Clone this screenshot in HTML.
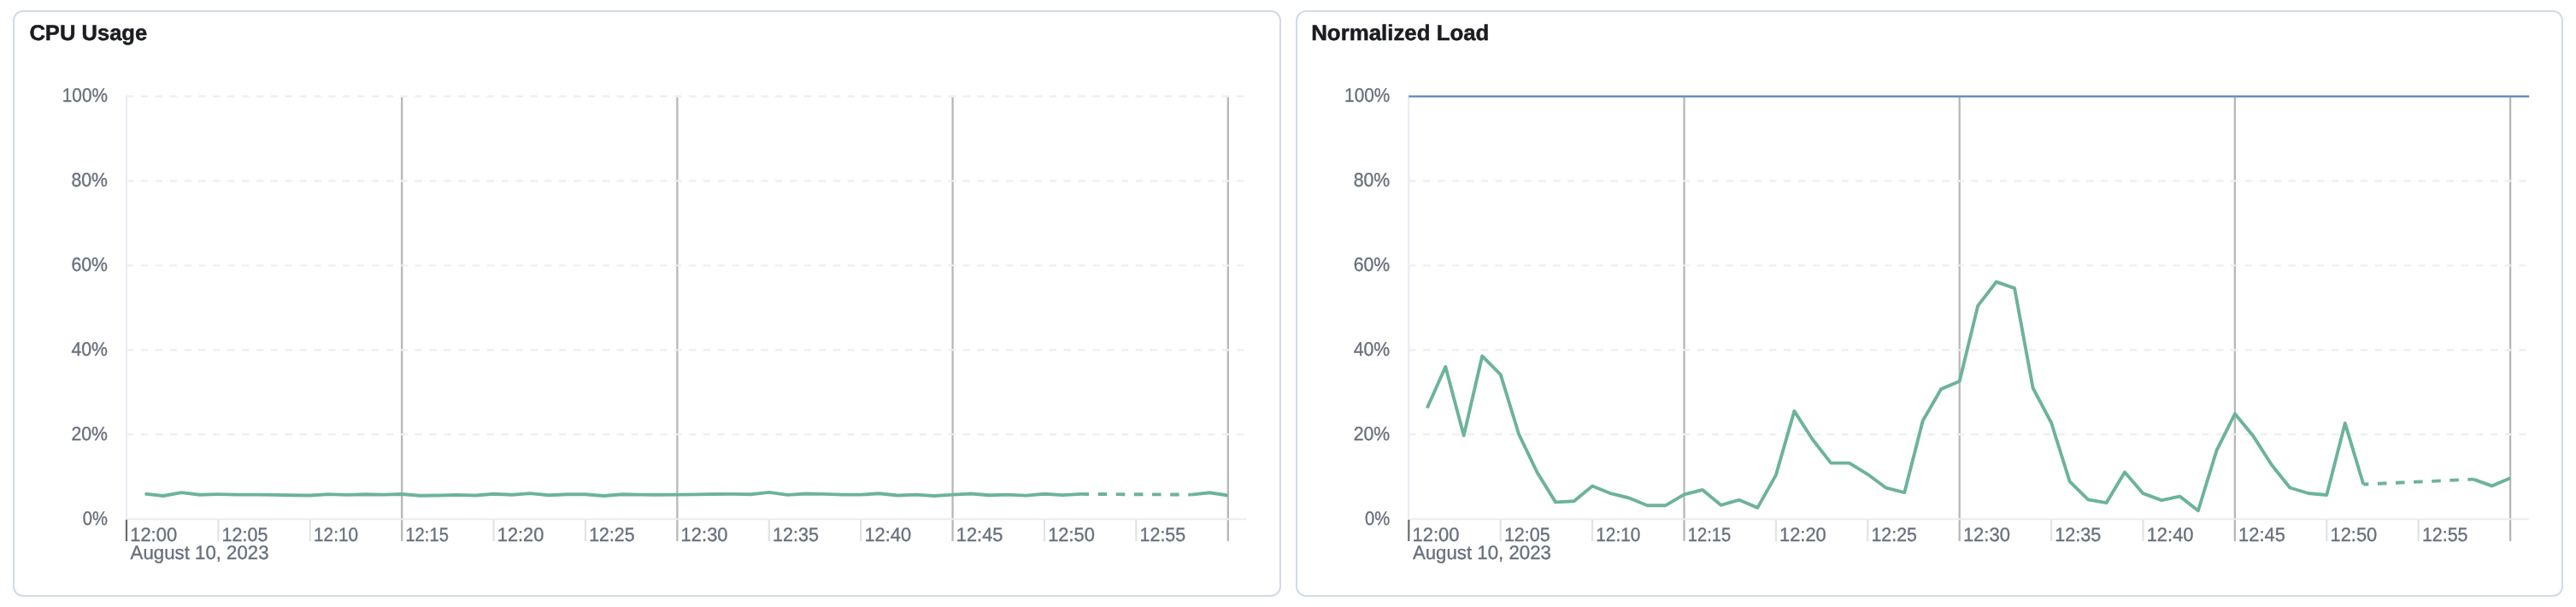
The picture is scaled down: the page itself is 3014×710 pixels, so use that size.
<!DOCTYPE html>
<html><head><meta charset="utf-8"><title>Host metrics</title>
<style>
html,body{margin:0;padding:0;background:#fff;}
body{width:3014px;height:710px;overflow:hidden;position:relative;font-family:"Liberation Sans",sans-serif;}
.panel{position:absolute;top:12px;height:682px;border:2px solid #d3dae6;border-radius:12px;background:#fff;box-sizing:content-box;}
#p1{left:15px;width:1480px;}
#p2{left:1516px;width:1479px;}
svg{position:absolute;left:0;top:0;opacity:0.999;will-change:transform;text-rendering:geometricPrecision;}
.t{font-family:"Liberation Sans",sans-serif;font-size:22.6px;fill:#69707d;stroke:#69707d;stroke-width:0.35px;}
.h{font-family:"Liberation Sans",sans-serif;font-size:25.6px;font-weight:700;fill:#1a1c21;stroke:#1a1c21;stroke-width:0.5px;}
.s{fill:none;stroke:#6cb39a;stroke-width:3.9;stroke-linejoin:round;stroke-linecap:butt;}
</style></head>
<body>
<div class="panel" id="p1"></div>
<div class="panel" id="p2"></div>
<svg width="3014" height="710" viewBox="0 0 3014 710">
<line x1="470.2" y1="113.7" x2="470.2" y2="633.0" stroke="#b7b7b7" stroke-width="2.3"/>
<line x1="792.4" y1="113.7" x2="792.4" y2="633.0" stroke="#b7b7b7" stroke-width="2.3"/>
<line x1="1114.6" y1="113.7" x2="1114.6" y2="633.0" stroke="#b7b7b7" stroke-width="2.3"/>
<line x1="1436.8" y1="113.7" x2="1436.8" y2="633.0" stroke="#b7b7b7" stroke-width="2.3"/>
<line x1="148.0" y1="112.7" x2="1456.5" y2="112.7" stroke="#eceef5" stroke-width="2.2" stroke-dasharray="8.435 8.435"/>
<line x1="148.0" y1="211.6" x2="1456.5" y2="211.6" stroke="#eceef5" stroke-width="2.2" stroke-dasharray="8.435 8.435"/>
<line x1="148.0" y1="310.5" x2="1456.5" y2="310.5" stroke="#eceef5" stroke-width="2.2" stroke-dasharray="8.435 8.435"/>
<line x1="148.0" y1="409.3" x2="1456.5" y2="409.3" stroke="#eceef5" stroke-width="2.2" stroke-dasharray="8.435 8.435"/>
<line x1="148.0" y1="508.2" x2="1456.5" y2="508.2" stroke="#eceef5" stroke-width="2.2" stroke-dasharray="8.435 8.435"/>
<line x1="148.0" y1="111.7" x2="148.0" y2="608.1" stroke="#eaecf3" stroke-width="2.2"/>
<line x1="147.0" y1="607.3" x2="1458.5" y2="607.3" stroke="#eaecf3" stroke-width="1.9"/>
<line x1="148.0" y1="607.9" x2="148.0" y2="633.0" stroke="#6a6b70" stroke-width="2.2"/>
<line x1="255.4" y1="607.9" x2="255.4" y2="633.0" stroke="#e2e3e6" stroke-width="2.2"/>
<line x1="362.8" y1="607.9" x2="362.8" y2="633.0" stroke="#e2e3e6" stroke-width="2.2"/>
<line x1="577.6" y1="607.9" x2="577.6" y2="633.0" stroke="#e2e3e6" stroke-width="2.2"/>
<line x1="685.0" y1="607.9" x2="685.0" y2="633.0" stroke="#e2e3e6" stroke-width="2.2"/>
<line x1="899.8" y1="607.9" x2="899.8" y2="633.0" stroke="#e2e3e6" stroke-width="2.2"/>
<line x1="1007.2" y1="607.9" x2="1007.2" y2="633.0" stroke="#e2e3e6" stroke-width="2.2"/>
<line x1="1222.0" y1="607.9" x2="1222.0" y2="633.0" stroke="#e2e3e6" stroke-width="2.2"/>
<line x1="1329.4" y1="607.9" x2="1329.4" y2="633.0" stroke="#e2e3e6" stroke-width="2.2"/>
<text x="126.0" y="119" text-anchor="end" class="t" textLength="53.2" lengthAdjust="spacingAndGlyphs">100%</text>
<text x="126.0" y="218" text-anchor="end" class="t" textLength="42.6" lengthAdjust="spacingAndGlyphs">80%</text>
<text x="126.0" y="317" text-anchor="end" class="t" textLength="42.6" lengthAdjust="spacingAndGlyphs">60%</text>
<text x="126.0" y="416" text-anchor="end" class="t" textLength="42.6" lengthAdjust="spacingAndGlyphs">40%</text>
<text x="126.0" y="515" text-anchor="end" class="t" textLength="42.6" lengthAdjust="spacingAndGlyphs">20%</text>
<text x="126.0" y="614" text-anchor="end" class="t" textLength="29.2" lengthAdjust="spacingAndGlyphs">0%</text>
<text x="152.2" y="633" class="t" textLength="54.9" lengthAdjust="spacingAndGlyphs">12:00</text>
<text x="259.6" y="633" class="t" textLength="53.9" lengthAdjust="spacingAndGlyphs">12:05</text>
<text x="367.0" y="633" class="t" textLength="52.1" lengthAdjust="spacingAndGlyphs">12:10</text>
<text x="474.4" y="633" class="t" textLength="50.5" lengthAdjust="spacingAndGlyphs">12:15</text>
<text x="581.8" y="633" class="t" textLength="54.6" lengthAdjust="spacingAndGlyphs">12:20</text>
<text x="689.2" y="633" class="t" textLength="53.4" lengthAdjust="spacingAndGlyphs">12:25</text>
<text x="796.6" y="633" class="t" textLength="55" lengthAdjust="spacingAndGlyphs">12:30</text>
<text x="904.0" y="633" class="t" textLength="54" lengthAdjust="spacingAndGlyphs">12:35</text>
<text x="1011.4" y="633" class="t" textLength="54.8" lengthAdjust="spacingAndGlyphs">12:40</text>
<text x="1118.8" y="633" class="t" textLength="54.7" lengthAdjust="spacingAndGlyphs">12:45</text>
<text x="1226.2" y="633" class="t" textLength="54.7" lengthAdjust="spacingAndGlyphs">12:50</text>
<text x="1333.6" y="633" class="t" textLength="53.6" lengthAdjust="spacingAndGlyphs">12:55</text>
<text x="152.6" y="654" class="t" textLength="162" lengthAdjust="spacingAndGlyphs">August 10, 2023</text>
<polyline class="s" points="169.5,577.6 191.0,580.0 212.4,576.1 233.9,578.7 255.4,578.1 276.9,578.6 298.4,578.6 319.8,578.9 341.3,579.2 362.8,579.5 384.3,578.1 405.8,578.9 427.2,578.3 448.7,578.6 470.2,578.0 491.7,579.8 513.2,579.5 534.6,578.9 556.1,579.5 577.6,577.7 599.1,578.8 620.6,577.1 642.0,579.3 663.5,578.2 685.0,578.2 706.5,580.0 728.0,578.2 749.4,578.6 770.9,578.8 792.4,578.6 813.9,578.4 835.4,578.0 856.8,577.9 878.3,578.2 899.8,575.9 921.3,578.9 942.8,577.5 964.2,577.9 985.7,578.6 1007.2,578.6 1028.7,577.3 1050.2,579.5 1071.6,578.6 1093.1,580.0 1114.6,578.6 1136.1,577.5 1157.6,579.3 1179.0,578.6 1200.5,579.6 1222.0,577.7 1243.5,579.1 1265.0,577.9"/>
<line class="s" x1="1265.0" y1="577.9" x2="1393.8" y2="578.6" stroke-dasharray="10.56 10.56" stroke-dashoffset="1.46"/>
<polyline class="s" points="1393.8,578.6 1415.3,576.2 1436.8,579.5"/>
<text x="34.4" y="47" class="h" textLength="137.8" lengthAdjust="spacingAndGlyphs">CPU Usage</text>
<line x1="1970.5" y1="113.7" x2="1970.5" y2="633.0" stroke="#b7b7b7" stroke-width="2.3"/>
<line x1="2292.7" y1="113.7" x2="2292.7" y2="633.0" stroke="#b7b7b7" stroke-width="2.3"/>
<line x1="2614.9" y1="113.7" x2="2614.9" y2="633.0" stroke="#b7b7b7" stroke-width="2.3"/>
<line x1="2937.1" y1="113.7" x2="2937.1" y2="633.0" stroke="#b7b7b7" stroke-width="2.3"/>
<line x1="1648.3" y1="211.6" x2="2956.8" y2="211.6" stroke="#eceef5" stroke-width="2.2" stroke-dasharray="8.435 8.435"/>
<line x1="1648.3" y1="310.5" x2="2956.8" y2="310.5" stroke="#eceef5" stroke-width="2.2" stroke-dasharray="8.435 8.435"/>
<line x1="1648.3" y1="409.3" x2="2956.8" y2="409.3" stroke="#eceef5" stroke-width="2.2" stroke-dasharray="8.435 8.435"/>
<line x1="1648.3" y1="508.2" x2="2956.8" y2="508.2" stroke="#eceef5" stroke-width="2.2" stroke-dasharray="8.435 8.435"/>
<line x1="1648.3" y1="111.7" x2="1648.3" y2="608.1" stroke="#eaecf3" stroke-width="2.2"/>
<line x1="1647.3" y1="607.3" x2="2958.8" y2="607.3" stroke="#eaecf3" stroke-width="1.9"/>
<line x1="1648.3" y1="607.9" x2="1648.3" y2="633.0" stroke="#6a6b70" stroke-width="2.2"/>
<line x1="1755.7" y1="607.9" x2="1755.7" y2="633.0" stroke="#e2e3e6" stroke-width="2.2"/>
<line x1="1863.1" y1="607.9" x2="1863.1" y2="633.0" stroke="#e2e3e6" stroke-width="2.2"/>
<line x1="2077.9" y1="607.9" x2="2077.9" y2="633.0" stroke="#e2e3e6" stroke-width="2.2"/>
<line x1="2185.3" y1="607.9" x2="2185.3" y2="633.0" stroke="#e2e3e6" stroke-width="2.2"/>
<line x1="2400.1" y1="607.9" x2="2400.1" y2="633.0" stroke="#e2e3e6" stroke-width="2.2"/>
<line x1="2507.5" y1="607.9" x2="2507.5" y2="633.0" stroke="#e2e3e6" stroke-width="2.2"/>
<line x1="2722.3" y1="607.9" x2="2722.3" y2="633.0" stroke="#e2e3e6" stroke-width="2.2"/>
<line x1="2829.7" y1="607.9" x2="2829.7" y2="633.0" stroke="#e2e3e6" stroke-width="2.2"/>
<line x1="1648.3" y1="112.7" x2="2959.3" y2="112.7" stroke="#6890bf" stroke-width="2.6"/>
<text x="1626.3" y="119" text-anchor="end" class="t" textLength="53.2" lengthAdjust="spacingAndGlyphs">100%</text>
<text x="1626.3" y="218" text-anchor="end" class="t" textLength="42.6" lengthAdjust="spacingAndGlyphs">80%</text>
<text x="1626.3" y="317" text-anchor="end" class="t" textLength="42.6" lengthAdjust="spacingAndGlyphs">60%</text>
<text x="1626.3" y="416" text-anchor="end" class="t" textLength="42.6" lengthAdjust="spacingAndGlyphs">40%</text>
<text x="1626.3" y="515" text-anchor="end" class="t" textLength="42.6" lengthAdjust="spacingAndGlyphs">20%</text>
<text x="1626.3" y="614" text-anchor="end" class="t" textLength="29.2" lengthAdjust="spacingAndGlyphs">0%</text>
<text x="1652.5" y="633" class="t" textLength="54.9" lengthAdjust="spacingAndGlyphs">12:00</text>
<text x="1759.9" y="633" class="t" textLength="53.9" lengthAdjust="spacingAndGlyphs">12:05</text>
<text x="1867.3" y="633" class="t" textLength="52.1" lengthAdjust="spacingAndGlyphs">12:10</text>
<text x="1974.7" y="633" class="t" textLength="50.5" lengthAdjust="spacingAndGlyphs">12:15</text>
<text x="2082.1" y="633" class="t" textLength="54.6" lengthAdjust="spacingAndGlyphs">12:20</text>
<text x="2189.5" y="633" class="t" textLength="53.4" lengthAdjust="spacingAndGlyphs">12:25</text>
<text x="2296.9" y="633" class="t" textLength="55" lengthAdjust="spacingAndGlyphs">12:30</text>
<text x="2404.3" y="633" class="t" textLength="54" lengthAdjust="spacingAndGlyphs">12:35</text>
<text x="2511.7" y="633" class="t" textLength="54.8" lengthAdjust="spacingAndGlyphs">12:40</text>
<text x="2619.1" y="633" class="t" textLength="54.7" lengthAdjust="spacingAndGlyphs">12:45</text>
<text x="2726.5" y="633" class="t" textLength="54.7" lengthAdjust="spacingAndGlyphs">12:50</text>
<text x="2833.9" y="633" class="t" textLength="53.6" lengthAdjust="spacingAndGlyphs">12:55</text>
<text x="1652.9" y="654" class="t" textLength="162" lengthAdjust="spacingAndGlyphs">August 10, 2023</text>
<polyline class="s" points="1669.8,477.2 1691.3,429.0 1712.7,509.4 1734.2,416.5 1755.7,438.1 1777.2,508.2 1798.7,552.9 1820.1,587.4 1841.6,586.3 1863.1,568.5 1884.6,577.2 1906.1,582.5 1927.5,591.2 1949.0,591.2 1970.5,578.3 1992.0,573.0 2013.5,590.8 2034.9,584.8 2056.4,593.9 2077.9,555.6 2099.4,480.9 2120.9,514.3 2142.3,541.6 2163.8,541.6 2185.3,554.8 2206.8,570.7 2228.3,576.1 2249.7,492.3 2271.2,455.1 2292.7,446.0 2314.2,357.6 2335.7,329.7 2357.1,337.2 2378.6,453.9 2400.1,494.5 2421.6,563.2 2443.1,584.4 2464.5,588.2 2486.0,552.2 2507.5,577.2 2529.0,585.2 2550.5,580.6 2571.9,597.3 2593.4,527.2 2614.9,484.0 2636.4,510.1 2657.9,543.8 2679.3,570.5 2700.8,577.0 2722.3,579.0 2743.8,495.1 2765.3,566.5"/>
<line class="s" x1="2765.3" y1="566.5" x2="2894.1" y2="560.6" stroke-dasharray="10.56 10.56" stroke-dashoffset="4.5"/>
<polyline class="s" points="2894.1,560.6 2915.6,568.4 2937.1,559.3"/>
<text x="1534.2" y="47" class="h" textLength="208.2" lengthAdjust="spacingAndGlyphs">Normalized Load</text>
</svg>
</body></html>
